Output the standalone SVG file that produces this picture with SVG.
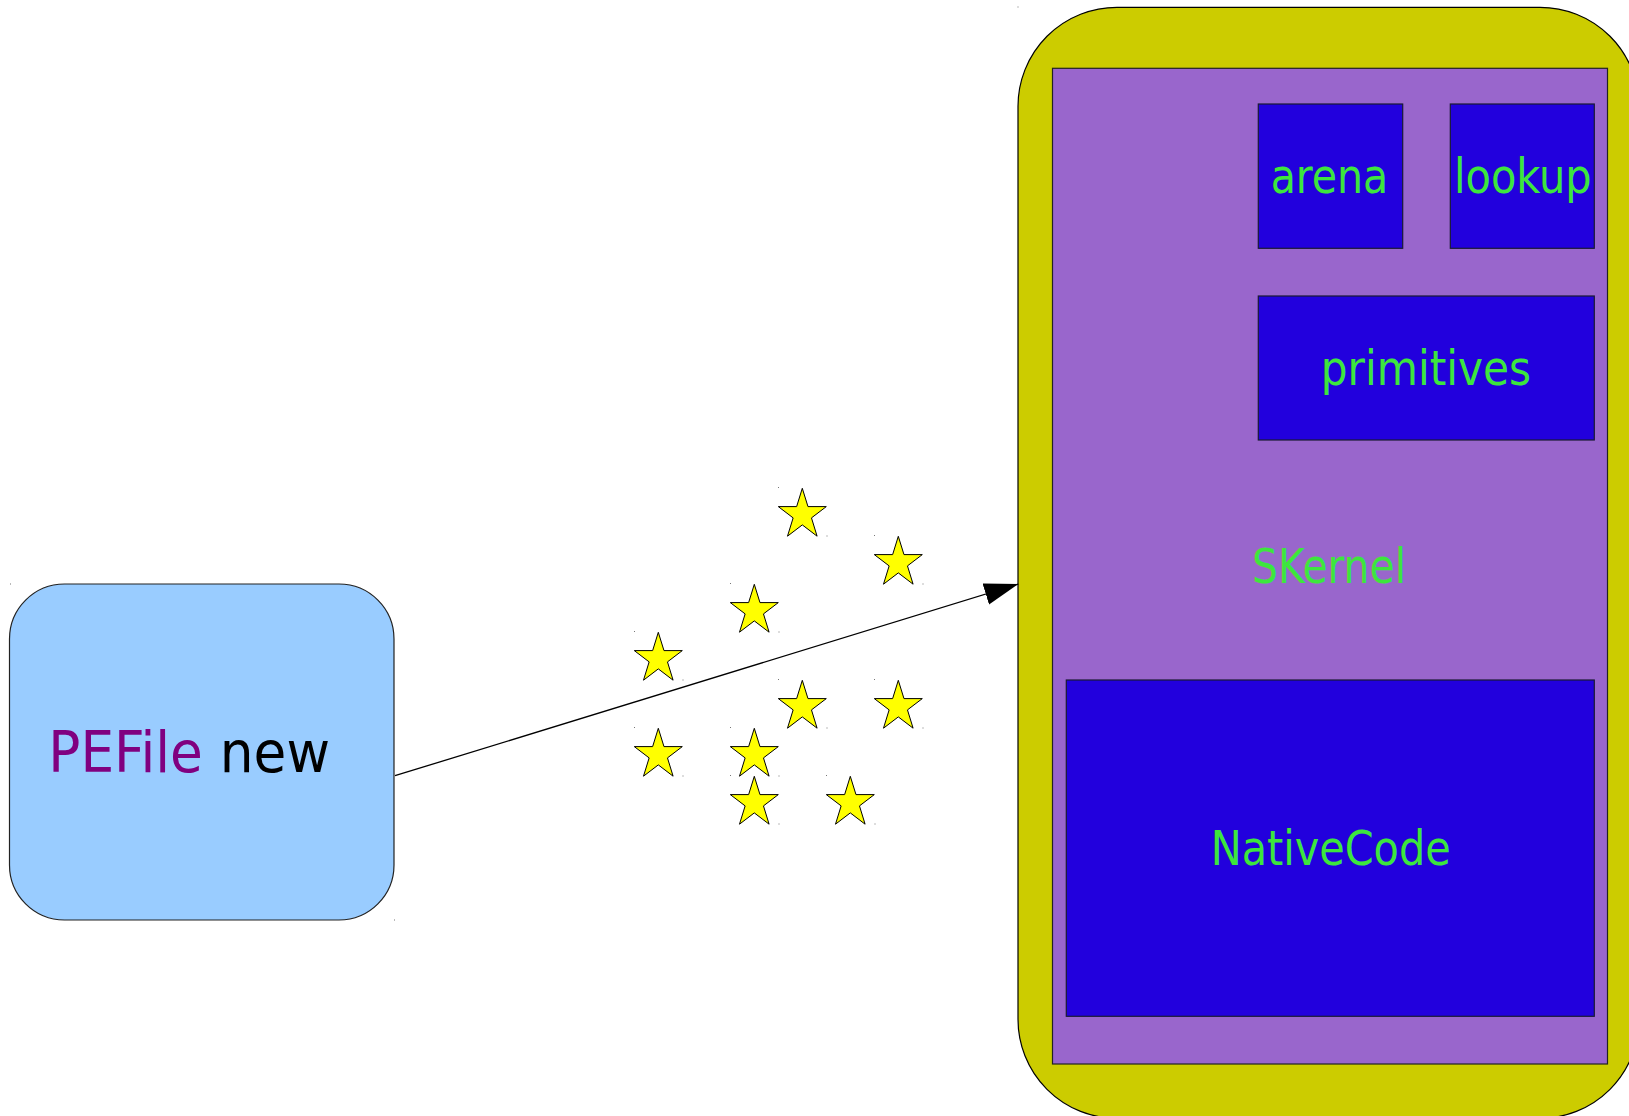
<svg xmlns="http://www.w3.org/2000/svg" xmlns:xlink="http://www.w3.org/1999/xlink" width="1629" height="1116" viewBox="0 0 1629 1116">
  <style>
    .lbl { font-family: "DejaVu Sans Condensed", "DejaVu Sans", sans-serif; font-size: 48.5px; fill: #3de63d; text-anchor: middle; }
    .mod { fill: #2200dd; stroke: #1a1a33; stroke-width: 1.2; }
    .star { fill: #ffff00; stroke: #000; stroke-width: 1; stroke-linejoin: miter; }
    .mark { fill: #777; }
    .edge { stroke: #000; stroke-width: 1.3; fill: none; }
  </style>
  <defs>
    <!-- five-pointed star in a 48x48 box -->
    <polygon id="star5" points="24,0 29.67,18.3 48,18.3 33.17,29.6 38.8,47.9 24,36.6 9.2,47.9 14.83,29.6 0,18.3 18.33,18.3"/>
    <marker id="arrow" markerUnits="userSpaceOnUse" markerWidth="36" markerHeight="24" refX="34" refY="11" orient="auto">
      <path d="M0,0 L34,11 L0,22 z" fill="#000"/>
    </marker>
  </defs>

  <rect width="1629" height="1116" fill="#fff"/>

  <!-- outer runtime container -->
  <g id="container">
    <rect x="1018" y="7.3" width="621" height="1111" rx="99" ry="99" fill="#cccc00" stroke="#000" stroke-width="1.2"/>
    <rect class="mark" x="1017.5" y="6.5" width="1" height="1"/>
  </g>

  <!-- SKernel -->
  <g id="skernel">
    <rect x="1052.5" y="68.3" width="555" height="995.7" fill="#9966cc" stroke="#222" stroke-width="1.2"/>
    <text class="lbl" x="1329" y="583.3" textLength="154" lengthAdjust="spacingAndGlyphs">SKernel</text>
  </g>

  <g id="arena">
    <rect class="mod" x="1258.3" y="104" width="144.4" height="144.3"/>
    <text class="lbl" x="1329.5" y="192.7" textLength="117.6" lengthAdjust="spacingAndGlyphs">arena</text>
  </g>

  <g id="lookup">
    <rect class="mod" x="1450.3" y="104" width="144" height="144.3"/>
    <text class="lbl" x="1522.8" y="192.7" textLength="137.7" lengthAdjust="spacingAndGlyphs">lookup</text>
  </g>

  <g id="primitives">
    <rect class="mod" x="1258.3" y="296" width="336" height="144"/>
    <text class="lbl" x="1425.9" y="385" textLength="210.3" lengthAdjust="spacingAndGlyphs">primitives</text>
  </g>

  <g id="nativecode">
    <rect class="mod" x="1066.3" y="680" width="528" height="336.3"/>
    <text class="lbl" x="1330.7" y="865" textLength="240" lengthAdjust="spacingAndGlyphs">NativeCode</text>
  </g>

  <!-- PEFile new -->
  <g id="pefile">
    <rect x="9.5" y="584" width="384.5" height="336" rx="55" ry="55" fill="#99ccff" stroke="#222" stroke-width="1.2"/>
    <text x="48.3" y="772.3" font-family="'DejaVu Sans Condensed', 'DejaVu Sans', sans-serif" font-size="57" textLength="281.7" lengthAdjust="spacingAndGlyphs"><tspan fill="#800080">PEFile</tspan><tspan fill="#000"> new</tspan></text>
    <rect class="mark" x="10" y="583.5" width="1" height="1"/>
    <rect class="mark" x="394" y="919.5" width="1" height="1"/>
  </g>

  <!-- scattered stars -->
  <g id="stars">
    <use class="star" xlink:href="#star5" x="778.3" y="488.3"/>
    <use class="star" xlink:href="#star5" x="874.3" y="536.3"/>
    <use class="star" xlink:href="#star5" x="730.3" y="584.3"/>
    <use class="star" xlink:href="#star5" x="634.3" y="632.3"/>
    <use class="star" xlink:href="#star5" x="778.3" y="680.3"/>
    <use class="star" xlink:href="#star5" x="874.3" y="680.3"/>
    <use class="star" xlink:href="#star5" x="634.3" y="728.3"/>
    <use class="star" xlink:href="#star5" x="730.3" y="728.3"/>
    <use class="star" xlink:href="#star5" x="730.3" y="776.3"/>
    <use class="star" xlink:href="#star5" x="826.3" y="776.3"/>
    <!-- corner ticks of each star's frame -->
    <rect class="mark" x="778" y="487" width="1" height="1"/><rect class="mark" x="826.5" y="535.5" width="1" height="1"/>
    <rect class="mark" x="874" y="535" width="1" height="1"/><rect class="mark" x="922.5" y="583.5" width="1" height="1"/>
    <rect class="mark" x="730" y="583" width="1" height="1"/><rect class="mark" x="778.5" y="631.5" width="1" height="1"/>
    <rect class="mark" x="634" y="631" width="1" height="1"/><rect class="mark" x="682.5" y="679.5" width="1" height="1"/>
    <rect class="mark" x="778" y="679" width="1" height="1"/><rect class="mark" x="826.5" y="727.5" width="1" height="1"/>
    <rect class="mark" x="874" y="679" width="1" height="1"/><rect class="mark" x="922.5" y="727.5" width="1" height="1"/>
    <rect class="mark" x="634" y="727" width="1" height="1"/><rect class="mark" x="682.5" y="775.5" width="1" height="1"/>
    <rect class="mark" x="730" y="727" width="1" height="1"/><rect class="mark" x="778.5" y="775.5" width="1" height="1"/>
    <rect class="mark" x="730" y="775" width="1" height="1"/><rect class="mark" x="778.5" y="823.5" width="1" height="1"/>
    <rect class="mark" x="826" y="775" width="1" height="1"/><rect class="mark" x="874.5" y="823.5" width="1" height="1"/>
  </g>

  <!-- connectors -->
  <g id="connectors">
    <line class="edge" x1="395" y1="775.7" x2="1018.3" y2="584" marker-end="url(#arrow)"/>
  </g>
</svg>
